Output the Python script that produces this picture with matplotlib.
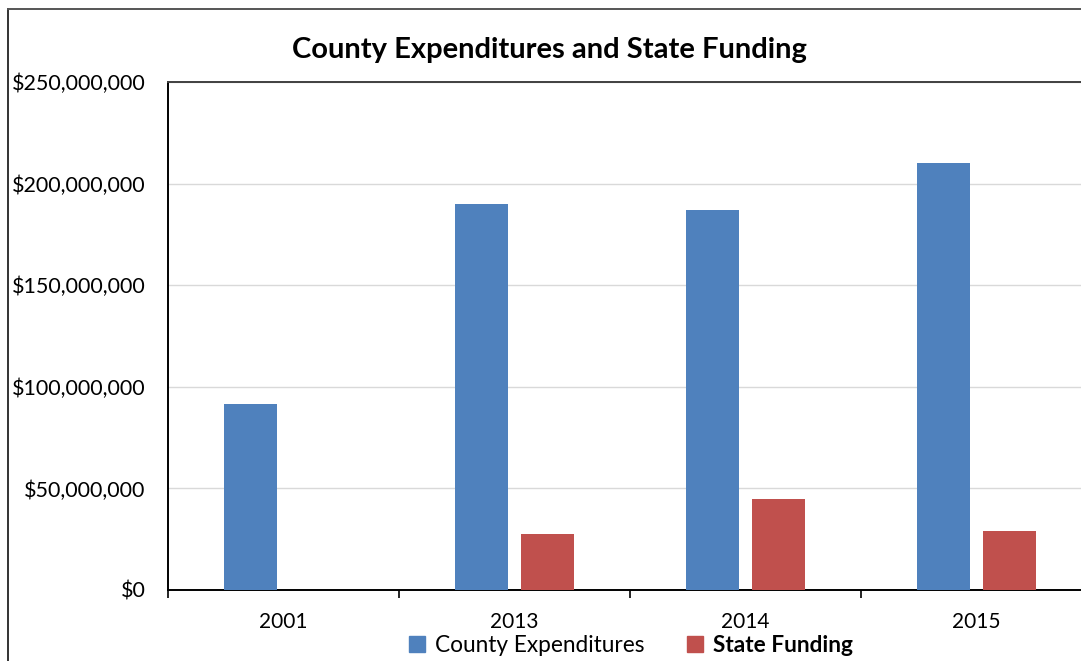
import matplotlib
matplotlib.use("Agg")
import matplotlib.pyplot as plt
from matplotlib.lines import Line2D
from matplotlib.patches import Patch
from matplotlib.ticker import FuncFormatter, MultipleLocator
import numpy as np

years = ["2001", "2013", "2014", "2015"]
county_expenditures = [91.5e6, 190e6, 187e6, 210e6]
state_funding = [np.nan, 27.5e6, 44.8e6, 29e6]

BLUE = "#4F81BD"
RED = "#C0504D"
FONT = "Lato"

W, H = 1081, 661
fig = plt.figure(figsize=(W / 100, H / 100), dpi=100)

def px(x0, y0, x1, y1):
    return [x0 / W, 1 - y1 / H, (x1 - x0) / W, (y1 - y0) / H]

ax = fig.add_axes(px(168, 82, 1092, 590))
x = np.arange(len(years))
bw = 0.23
off = 0.142
ax.bar(x - off, county_expenditures, bw, color=BLUE, zorder=3)
ax.bar(x + off, state_funding, bw, color=RED, zorder=3)

ax.set_xlim(-0.5, 3.5)
ax.set_ylim(0, 250e6)
ax.yaxis.set_major_locator(MultipleLocator(50e6))
ax.yaxis.set_major_formatter(FuncFormatter(lambda v, p: f"${v:,.0f}"))
ax.grid(axis="y", color="#D9D9D9", linewidth=1, zorder=0)
ax.set_axisbelow(True)

ax.set_xticks(x)
ax.set_xticklabels(years)
ax.set_xticks(np.arange(-0.5, 4.0, 1.0), minor=True)
ax.tick_params(axis="x", which="major", length=0, pad=16, labelsize=15)
ax.tick_params(axis="x", which="minor", length=6, width=1.2, color="black", direction="out")
ax.tick_params(axis="y", length=0, pad=16, labelsize=15.5)
for lab in ax.get_xticklabels() + ax.get_yticklabels():
    lab.set_fontfamily(FONT)

for s in ["left", "bottom", "top"]:
    ax.spines[s].set_color("black")
    ax.spines[s].set_linewidth(1.4)
ax.spines["top"].set_color("#404040")
ax.spines["right"].set_visible(False)

# outer chart frame
fig.add_artist(Line2D([8 / W, 8 / W], [0, 1 - 9 / H], color="#333333", lw=1.4, transform=fig.transFigure))
fig.add_artist(Line2D([8 / W, 1], [1 - 9 / H, 1 - 9 / H], color="#555555", lw=1.4, transform=fig.transFigure))

fig.text(549 / W, 1 - 50 / H, "County Expenditures and State Funding", ha="center", va="center",
         fontsize=21, fontweight="bold", family=FONT)

handles = [Patch(color=BLUE), Patch(color=RED)]
leg = fig.legend(handles, ["County Expenditures", "State Funding"], loc="center",
                 bbox_to_anchor=(631 / W, 1 - 645 / H), ncol=2, frameon=False,
                 prop={"family": FONT, "size": 16.3}, handlelength=0.7, handleheight=0.7,
                 handletextpad=0.45, columnspacing=1.9)
leg.get_texts()[1].set_fontweight("bold")

fig.savefig("out.png", dpi=100)
